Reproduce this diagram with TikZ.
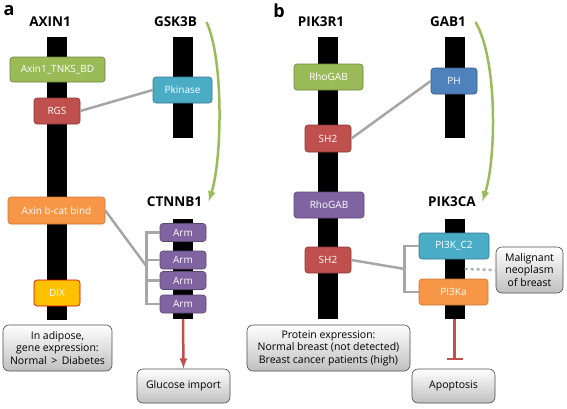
\documentclass[tikz,border=0pt]{standalone}
\usepackage{fontspec}
\setmainfont{Open Sans}
\usetikzlibrary{arrows}

\definecolor{domgreen}{RGB}{155,187,89}
\definecolor{domred}{RGB}{192,80,77}
\definecolor{domaqua}{RGB}{75,172,198}
\definecolor{domorange}{RGB}{247,150,70}
\definecolor{dompurple}{RGB}{128,100,162}
\definecolor{domblue}{RGB}{79,129,189}
\definecolor{domyellow}{RGB}{255,192,0}
\definecolor{linkgray}{RGB}{166,166,166}
\definecolor{dotgray}{RGB}{170,176,190}

\begin{document}
\begin{tikzpicture}[x=1pt,y=-1pt]
\tikzstyle{every node}=[font=\fontsize{10}{12}\selectfont]
\tikzstyle{bar}=[fill=black, minimum width=20pt, inner sep=0pt]
\tikzstyle{dom}=[draw, semithick, rounded corners=3pt, text=white, minimum height=26pt, inner sep=0pt]
\tikzstyle{note}=[draw=black!70, semithick, rounded corners=6pt, top color=white, bottom color=black!25, align=center, inner sep=0pt, font=\fontsize{10.5}{12.5}\selectfont]
\tikzstyle{title}=[font=\fontsize{13.5}{16}\selectfont\bfseries]
\tikzstyle{panel}=[font=\fontsize{18}{18}\selectfont\bfseries]
\tikzstyle{link}=[draw=linkgray, line width=2.5pt]
\tikzstyle{act}=[draw=domgreen, line width=2.5pt, ->, >=latex]
\useasboundingbox (0,0) rectangle (567,408);

% panel a
\node[panel] (pa) at (9,11) {a};
\node[title] (axin) at (50,22) {AXIN1};
\node[title] (gsk) at (175.5,22) {GSK3B};
\node[title] (ctn) at (174.5,202) {CTNNB1};

\node[bar, minimum height=283pt] (axinbar) at (57,178.5) {};
\node[bar, minimum height=101pt] (gskbar) at (183,87.5) {};
\node[bar, minimum height=100pt] (ctnbar) at (183,269) {};

\node[dom, fill=domgreen, draw=domgreen!70!black, minimum width=95pt, minimum height=25pt] (tnks) at (57.5,69.5) {Axin1\_TNKS\_BD};
\node[dom, fill=domred, draw=domred!70!black, minimum width=46pt] (rgs) at (57,111) {RGS};
\node[dom, fill=domaqua, draw=domaqua!70!black, minimum width=59pt] (pkin) at (182.5,90) {Pkinase};
\node[dom, fill=domorange, draw=domorange!80!black, minimum width=97pt, minimum height=27pt] (bcat) at (56.5,210.5) {Axin b-cat bind};
\node[dom, fill=domyellow, draw=red!80!black, minimum width=46pt] (dix) at (57,293) {DIX};
\foreach \n/\y in {1/232.5, 2/260, 3/280.5, 4/304}
  \node[dom, fill=dompurple, draw=dompurple!70!black, minimum width=46pt, minimum height=18pt] (arm\n) at (183,\y) {Arm};

\node[note, minimum width=109pt, minimum height=46pt] (adip) at (57.5,348) {In adipose,\\gene expression:\\Normal \,>\, Diabetes};
\node[note, minimum width=93pt, minimum height=34pt] (gluc) at (183.5,386) {Glucose import};

\draw[link] (rgs.east) -- (pkin.west);
\coordinate (bra) at (147,267);
\draw[link] (bcat.east) -- (bra);
\draw[link] (arm1.west) -- ++(-13,0) |- (arm4.west);
\foreach \n in {2,3}
  \draw[link] (arm\n.west) -- ++(-13,0);
\draw[act] ([xshift=6pt]gsk.east) .. controls (224,60) and (222,160) .. ([xshift=3pt,yshift=-8pt]ctn.north east);
\draw[draw=domred, line width=2.5pt, ->, >=latex] (ctnbar.south) -- (gluc.north);

% panel b
\node[panel] (pb) at (279,11) {b};
\node[title] (pikr) at (321,22) {PIK3R1};
\node[title] (gab) at (448,22) {GAB1};
\node[title] (pikc) at (452,202) {PIK3CA};

\node[bar, minimum height=282pt] (pikrbar) at (328,178) {};
\node[bar, minimum height=101pt] (gabbar) at (454.5,87.5) {};
\node[bar, minimum height=100pt] (pikcbar) at (454.5,269) {};

\node[dom, fill=domgreen, draw=domgreen!70!black, minimum width=69pt] (rho1) at (328.5,77) {RhoGAB};
\node[dom, fill=domred, draw=domred!70!black, minimum width=46pt, minimum height=27pt] (shA) at (328,138.5) {SH2};
\node[dom, fill=dompurple, draw=dompurple!70!black, minimum width=70pt] (rho2) at (329,205) {RhoGAB};
\node[dom, fill=domred, draw=domred!70!black, minimum width=46pt] (shB) at (328,260) {SH2};
\node[dom, fill=domblue, draw=domblue!70!black, minimum width=46pt] (ph) at (454,81) {PH};
\node[dom, fill=domaqua, draw=domaqua!70!black, minimum width=70pt] (c2) at (454,246) {PI3K\_C2};
\node[dom, fill=domorange, draw=domorange!80!black, minimum width=69pt] (ka) at (453.5,292) {PI3Ka};

\node[note, minimum width=67pt, minimum height=46pt] (malig) at (529.5,270) {Malignant\\neoplasm\\of breast};
\node[note, minimum width=163pt, minimum height=46pt] (prot) at (328.5,348) {Protein expression:\\Normal breast (not detected)\\Breast cancer patients (high)};
\node[note, minimum width=83pt, minimum height=34pt] (apop) at (453.5,386) {Apoptosis};

\draw[link] (shA.east) -- (ph.west);
\coordinate (brb) at (405,269);
\draw[link] (shB.east) -- (brb);
\draw[link] (c2.west) -- ++(-14,0) |- (ka.west);
\draw[draw=dotgray, line width=2.5pt, dash pattern=on 3pt off 3pt] (pikcbar.east) -- (malig.west);
\draw[act] ([xshift=6pt]gab.east) .. controls (498,60) and (496,160) .. ([xshift=3pt,yshift=-8pt]pikc.north east);
\coordinate (inh) at (454.5,359);
\draw[draw=domred, line width=2.5pt] (pikcbar.south) -- (inh);
\draw[draw=domred, line width=2.5pt] ([xshift=-8pt]inh) -- ([xshift=8pt]inh);
\end{tikzpicture}
\end{document}
